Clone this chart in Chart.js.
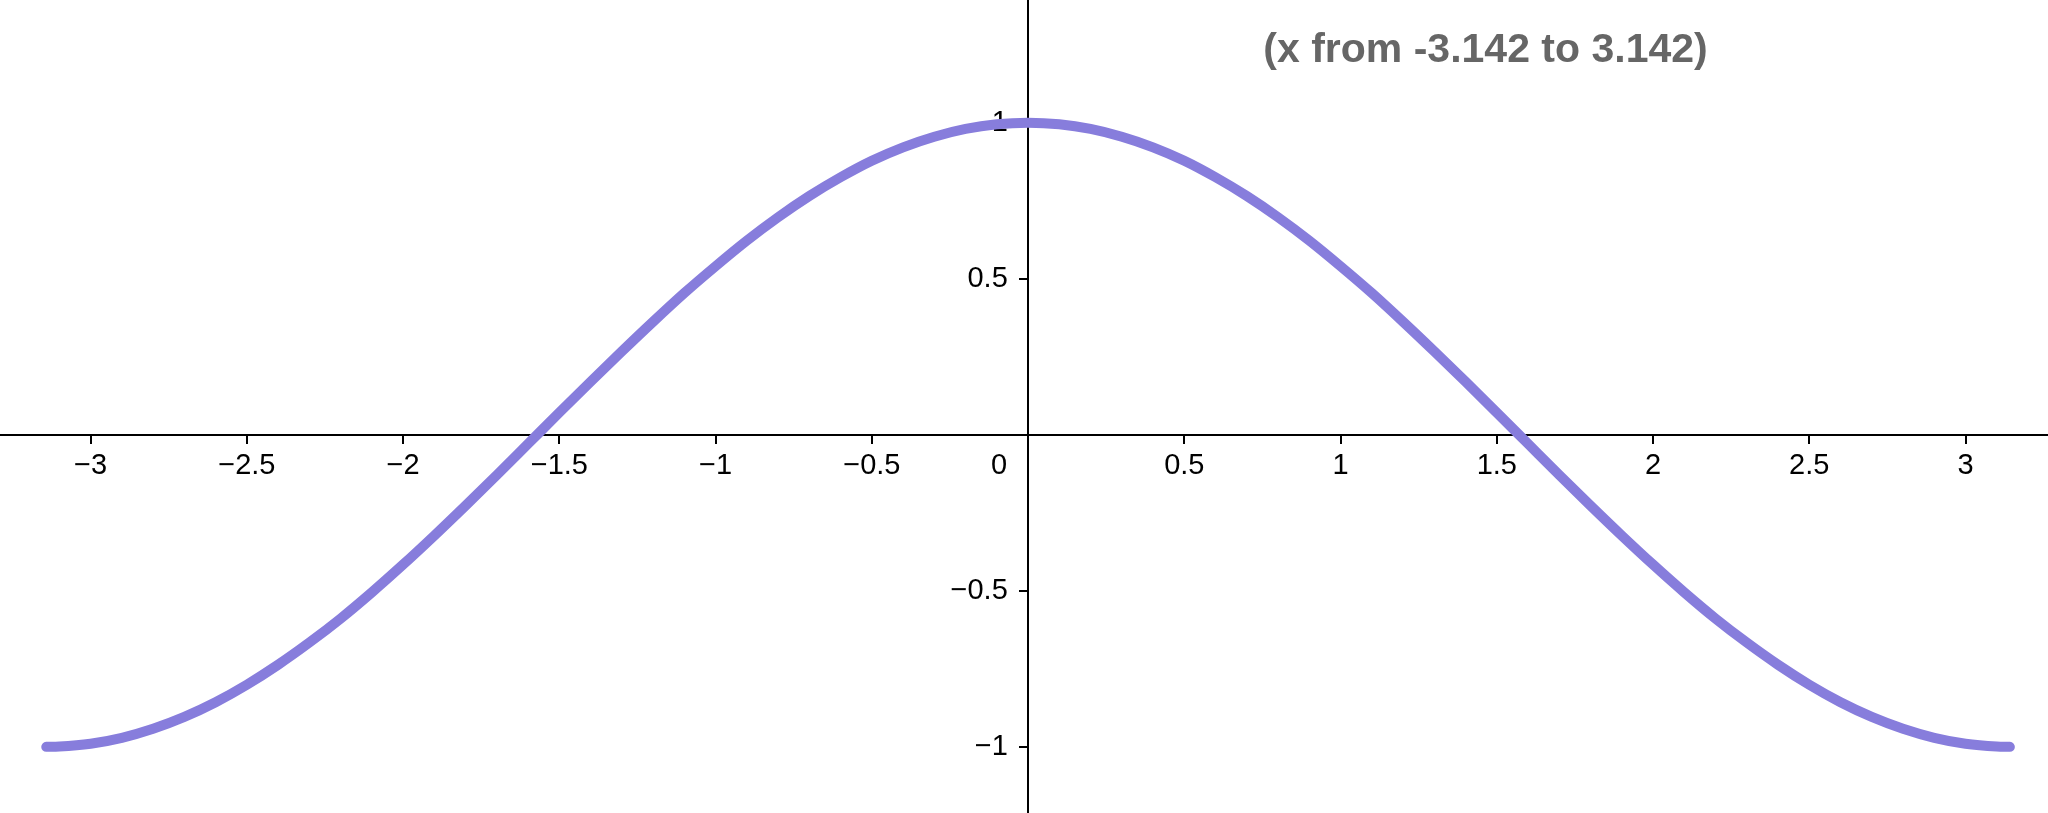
<!DOCTYPE html>
<html>
<head>
<meta charset="utf-8">
<script src="https://cdn.jsdelivr.net/npm/chart.js@4/dist/chart.umd.min.js"></script>
<style>
  html, body { margin: 0; padding: 0; background: #fff; }
  #wrap { width: 2048px; height: 813px; }
</style>
</head>
<body>
<div id="wrap"><canvas id="cosChart" width="2048" height="813"></canvas></div>
<script>
// ----------------- DATA -----------------
const xValues = [
  -3.142, -3.1, -3.0, -2.9, -2.8, -2.7, -2.6, -2.5, -2.4, -2.3, -2.2, -2.1,
  -2.0, -1.9, -1.8, -1.7, -1.6, -1.5, -1.4, -1.3, -1.2, -1.1,
  -1.0, -0.9, -0.8, -0.7, -0.6, -0.5, -0.4, -0.3, -0.2, -0.1,
  0.0,
  0.1, 0.2, 0.3, 0.4, 0.5, 0.6, 0.7, 0.8, 0.9, 1.0,
  1.1, 1.2, 1.3, 1.4, 1.5, 1.6, 1.7, 1.8, 1.9, 2.0,
  2.1, 2.2, 2.3, 2.4, 2.5, 2.6, 2.7, 2.8, 2.9, 3.0, 3.1, 3.142
];
const yValues = [
  -1.000, -0.999, -0.990, -0.971, -0.942, -0.904, -0.857, -0.801, -0.737, -0.666, -0.589, -0.505,
  -0.416, -0.323, -0.227, -0.129, -0.029, 0.071, 0.170, 0.267, 0.362, 0.454,
  0.540, 0.622, 0.697, 0.765, 0.825, 0.878, 0.921, 0.955, 0.980, 0.995,
  1.000,
  0.995, 0.980, 0.955, 0.921, 0.878, 0.825, 0.765, 0.697, 0.622, 0.540,
  0.454, 0.362, 0.267, 0.170, 0.071, -0.029, -0.129, -0.227, -0.323, -0.416,
  -0.505, -0.589, -0.666, -0.737, -0.801, -0.857, -0.904, -0.942, -0.971, -0.990, -0.999, -1.000
];
const xTicks = [-3, -2.5, -2, -1.5, -1, -0.5, 0, 0.5, 1, 1.5, 2, 2.5, 3];
const yTicks = [-1, -0.5, 0.5, 1];
const noteText = "(x from -3.142 to 3.142)";

// ----------------- HELPERS -----------------
function fmt(v) {
  const s = String(Math.abs(v));
  return v < 0 ? "\u2212" + s : s;
}

// origin label sits left of the y axis
function xLabel(v) {
  if (v === 0) return "0" + "\u2002".repeat(4);
  return fmt(v);
}

// y labels are drawn right on the axis, push them off with spaces
function yLabel(v) {
  return fmt(v) + "\u2002\u2009";
}

// no auto padding from the axis labels, the plot fills the canvas
function noPadding(scale) {
  scale.paddingTop = 0;
  scale.paddingBottom = 0;
  scale.paddingLeft = 0;
  scale.paddingRight = 0;
}

// ----------------- NOTE PLUGIN -----------------
const notePlugin = {
  id: "note",
  afterDraw(chart) {
    const ctx = chart.ctx;
    const x = chart.scales.x.getPixelForValue(1.464);
    const y = chart.scales.y.getPixelForValue(1.23);
    ctx.save();
    ctx.font = "bold 41px 'Liberation Sans', Arial, sans-serif";
    ctx.fillStyle = "#666666";
    ctx.textAlign = "center";
    ctx.textBaseline = "middle";
    ctx.fillText(noteText, x, y);
    ctx.restore();
  }
};

// ----------------- CHART -----------------
const tickFont = { family: "'Liberation Sans', Arial, sans-serif", size: 29 };

new Chart(document.getElementById("cosChart").getContext("2d"), {
  type: "scatter",
  data: {
    datasets: [{
      data: xValues.map((x, i) => ({ x, y: yValues[i] })),
      showLine: true,
      cubicInterpolationMode: "monotone",
      borderColor: "#877ddc",
      borderWidth: 10,
      borderCapStyle: "round",
      borderJoinStyle: "round",
      pointRadius: 0,
      fill: false
    }]
  },
  options: {
    responsive: false,
    devicePixelRatio: 1,
    animation: false,
    layout: { padding: 0, autoPadding: false },
    plugins: { legend: { display: false }, tooltip: { enabled: false } },
    scales: {
      x: {
        type: "linear",
        min: -3.29,
        max: 3.264,
        position: { y: 0 },
        afterBuildTicks: s => { s.ticks = xTicks.map(v => ({ value: v })); },
        afterFit: noPadding,
        border: { display: true, color: "#000", width: 2 },
        grid: { drawOnChartArea: false, drawTicks: true, tickLength: 8, color: "#000", lineWidth: 2 },
        ticks: {
          autoSkip: false,
          maxRotation: 0,
          padding: 6,
          color: "#000",
          font: tickFont,
          callback: v => xLabel(v)
        }
      },
      y: {
        type: "linear",
        min: -1.212,
        max: 1.393,
        position: { x: 0 },
        afterBuildTicks: s => { s.ticks = yTicks.map(v => ({ value: v })); },
        afterFit: noPadding,
        border: { display: true, color: "#000", width: 2 },
        grid: { drawOnChartArea: false, drawTicks: true, tickLength: 8, color: "#000", lineWidth: 2 },
        ticks: {
          autoSkip: false,
          padding: 0,
          color: "#000",
          font: tickFont,
          callback: v => yLabel(v)
        }
      }
    }
  },
  plugins: [notePlugin]
});
</script>
</body>
</html>
